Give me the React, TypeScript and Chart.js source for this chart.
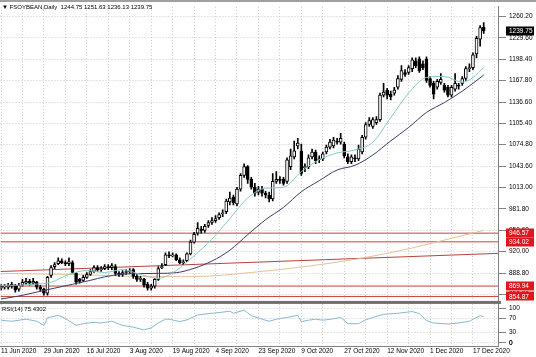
import React, { useEffect, useRef } from 'react';
import { Chart, registerables } from 'chart.js';

Chart.register(...registerables);

const headerText = '\u25BC FSOYBEAN,Daily  1244.75 1251.63 1236.13 1239.75';
const rsiTitle = 'RSI(14) 75.4302';
const lastPrice = 1239.75;

const dateTicks = ['11 Jun 2020', '29 Jun 2020', '16 Jul 2020', '3 Aug 2020', '19 Aug 2020', '4 Sep 2020', '23 Sep 2020', '9 Oct 2020', '27 Oct 2020', '12 Nov 2020', '1 Dec 2020', '17 Dec 2020'];
const gridBars = [0, 6, 12, 18, 24, 30, 36, 42, 48, 54, 60, 66, 72, 78, 84, 90, 96, 102, 108, 114, 120, 126, 132, 138];
const priceTicks = [858.2, 888.8, 920.0, 950.6, 981.8, 1013.0, 1043.6, 1074.8, 1105.4, 1136.6, 1167.8, 1198.4, 1229.6, 1260.2];
const rsiTicks = [0, 30, 70, 100];

const opens = [866.9, 868.3, 868.3, 869.7, 871.1, 865.4, 871.1, 874.0, 876.8, 874.0,
  875.4, 868.3, 865.4, 859.8, 885.3, 898.1, 902.4, 906.6, 903.8, 902.4,
  903.8, 888.2, 879.6, 878.2, 882.5, 886.7, 891.0, 896.7, 893.8, 895.3,
  898.1, 896.7, 898.1, 888.2, 886.7, 889.6, 891.0, 893.8, 883.9, 879.6,
  879.6, 872.5, 866.9, 869.7, 879.6, 896.7, 900.9, 915.1, 913.7, 915.1,
  908.0, 903.8, 906.6, 916.6, 933.6, 946.4, 952.1, 950.6, 957.7, 962.0,
  964.8, 969.1, 974.8, 977.6, 991.8, 998.9, 989.0, 1010.3, 1030.2, 1042.9,
  1024.5, 1013.1, 1006.0, 1010.3, 1004.6, 1001.8, 996.1, 1021.6, 1024.5, 1024.5,
  1021.6, 1042.9, 1057.1, 1072.8, 1065.7, 1041.5, 1042.9, 1057.1, 1064.2, 1052.9,
  1054.3, 1064.2, 1071.3, 1072.8, 1079.9, 1078.4, 1075.6, 1057.1, 1050.0, 1055.7,
  1054.3, 1064.2, 1085.5, 1104.0, 1101.2, 1106.8, 1111.1, 1146.6, 1153.7, 1148.0,
  1149.4, 1158.0, 1169.3, 1179.3, 1179.3, 1184.9, 1196.3, 1199.1, 1192.0, 1199.1,
  1170.7, 1163.6, 1158.0, 1165.1, 1160.8, 1158.0, 1146.6, 1155.1, 1160.8, 1163.6,
  1170.7, 1184.9, 1186.4, 1206.2, 1227.5, 1244.75];
const highs = [872.5, 872.5, 874.0, 875.4, 872.5, 874.0, 879.6, 881.1, 879.6, 881.1,
  876.8, 871.1, 866.9, 883.9, 899.5, 903.8, 910.9, 909.5, 906.6, 910.9,
  906.6, 889.6, 881.1, 885.3, 889.6, 893.8, 899.5, 899.5, 898.1, 900.9,
  900.9, 902.4, 900.9, 891.0, 892.4, 893.8, 895.3, 895.3, 886.7, 883.9,
  881.1, 875.4, 872.5, 881.1, 898.1, 902.4, 918.0, 919.4, 918.0, 916.6,
  910.9, 908.0, 918.0, 936.4, 947.8, 962.0, 956.3, 959.2, 964.8, 969.1,
  971.9, 976.2, 980.5, 996.1, 1006.0, 1001.8, 1013.1, 1033.0, 1047.2, 1044.4,
  1027.3, 1018.8, 1014.5, 1014.5, 1007.4, 1006.0, 1033.0, 1035.8, 1028.7, 1027.3,
  1055.7, 1068.5, 1079.9, 1084.1, 1075.6, 1047.2, 1060.0, 1068.5, 1067.1, 1058.6,
  1064.2, 1074.2, 1082.7, 1085.5, 1084.1, 1091.2, 1078.4, 1061.4, 1060.0, 1060.0,
  1074.2, 1088.4, 1106.8, 1113.9, 1113.9, 1115.4, 1149.4, 1163.6, 1156.5, 1152.3,
  1158.0, 1175.0, 1189.2, 1183.5, 1189.2, 1200.6, 1200.6, 1202.0, 1196.3, 1202.0,
  1173.6, 1166.5, 1169.3, 1177.8, 1163.6, 1160.8, 1160.8, 1177.8, 1163.6, 1173.6,
  1187.8, 1192.0, 1207.7, 1231.8, 1247.4, 1251.63];
const lows = [864.0, 865.4, 865.4, 866.9, 861.2, 862.6, 869.7, 872.5, 871.1, 872.5,
  865.4, 862.6, 856.9, 856.9, 882.5, 895.3, 900.9, 902.4, 899.5, 899.5,
  888.2, 872.5, 874.0, 876.8, 881.1, 885.3, 889.6, 891.0, 891.0, 893.8,
  893.8, 893.8, 885.3, 883.9, 883.9, 886.7, 888.2, 881.1, 876.8, 876.8,
  868.3, 864.0, 864.0, 866.9, 878.2, 895.3, 899.5, 910.9, 912.3, 906.6,
  902.4, 900.9, 905.2, 915.1, 932.2, 943.5, 946.4, 947.8, 954.9, 959.2,
  962.0, 966.3, 970.5, 974.8, 987.6, 987.6, 986.1, 1007.4, 1027.3, 1018.8,
  1010.3, 1000.3, 1001.8, 1000.3, 997.5, 991.8, 993.2, 1018.8, 1018.8, 1016.0,
  1018.8, 1038.7, 1054.3, 1068.5, 1030.2, 1035.8, 1040.1, 1054.3, 1047.2, 1048.6,
  1051.5, 1061.4, 1068.5, 1069.9, 1075.6, 1075.6, 1055.7, 1047.2, 1047.2, 1050.0,
  1051.5, 1061.4, 1082.7, 1101.2, 1098.3, 1104.0, 1108.3, 1143.8, 1140.9, 1139.5,
  1146.6, 1155.1, 1166.5, 1173.6, 1176.4, 1180.7, 1186.4, 1179.3, 1183.5, 1165.1,
  1158.0, 1140.9, 1155.1, 1162.2, 1150.9, 1143.8, 1143.8, 1152.3, 1155.1, 1160.8,
  1167.9, 1180.7, 1183.5, 1200.6, 1217.6, 1236.13];
const closes = [869.7, 869.7, 871.1, 872.5, 864.0, 871.1, 875.4, 876.8, 874.0, 876.8,
  868.3, 865.4, 859.8, 882.5, 896.7, 900.9, 906.6, 903.8, 902.4, 905.2,
  889.6, 875.4, 876.8, 882.5, 886.7, 891.0, 896.7, 893.8, 895.3, 898.1,
  896.7, 899.5, 888.2, 886.7, 889.6, 891.0, 892.4, 883.9, 879.6, 881.1,
  871.1, 866.9, 869.7, 879.6, 895.3, 898.1, 915.1, 913.7, 915.1, 908.0,
  903.8, 905.2, 916.6, 933.6, 945.0, 953.5, 950.6, 956.3, 962.0, 964.8,
  967.7, 973.4, 976.2, 993.2, 997.5, 990.4, 1010.3, 1030.2, 1042.9, 1024.5,
  1013.1, 1004.6, 1010.3, 1004.6, 1001.8, 996.1, 1021.6, 1024.5, 1023.1, 1018.8,
  1052.9, 1058.6, 1065.7, 1077.0, 1033.0, 1042.9, 1055.7, 1064.2, 1051.5, 1054.3,
  1061.4, 1071.3, 1078.4, 1081.3, 1078.4, 1084.1, 1058.6, 1050.0, 1057.1, 1054.3,
  1068.5, 1085.5, 1104.0, 1109.7, 1111.1, 1111.1, 1146.6, 1150.9, 1146.6, 1143.8,
  1153.7, 1170.7, 1182.1, 1176.4, 1186.4, 1197.7, 1189.2, 1182.1, 1186.4, 1167.9,
  1160.8, 1148.0, 1166.5, 1169.3, 1153.7, 1146.6, 1158.0, 1163.6, 1159.4, 1170.7,
  1184.9, 1186.4, 1204.8, 1229.0, 1244.6, 1239.75];

const fastMaBars = [0, 5, 9, 14, 19, 24, 29, 34, 39, 44, 49, 54, 59, 64, 69, 74, 79, 84, 89, 94, 99, 104, 109, 114, 119, 124, 129, 132, 135];
const fastMaValues = [871.1, 871.1, 872.5, 875.4, 886.7, 892.4, 889.6, 893.8, 886.7, 881.1, 892.4, 913.7, 937.9, 967.7, 997.5, 1011.7, 1013.1, 1035.8, 1052.9, 1062.8, 1067.1, 1078.4, 1113.9, 1149.4, 1172.2, 1173.6, 1165.1, 1172.2, 1186.4];
const slowMaBars = [0, 5, 10, 15, 20, 25, 29, 34, 39, 44, 49, 54, 59, 64, 69, 74, 79, 84, 89, 94, 99, 104, 109, 114, 119, 124, 129, 135];
const slowMaValues = [851.2, 855.5, 861.2, 866.9, 872.5, 878.2, 883.3, 887.2, 888.0, 888.3, 889.3, 895.7, 906.2, 921.8, 944.4, 966.1, 983.9, 1006.6, 1022.6, 1038.1, 1044.9, 1059.8, 1080.3, 1099.7, 1121.5, 1135.8, 1152.3, 1175.6];
const longMaBars = [0, 20, 40, 55, 70, 85, 100, 115, 125, 135];
const longMaValues = [888.2, 886.7, 883.9, 883.9, 889.6, 898.1, 909.5, 925.1, 937.9, 950.6];

const levelPrices = [946.57, 934.02, 869.94, 854.87];
const trendlinePrices = [891.0, 917.3];

const rsiBars = [0, 3, 7, 10, 12, 13, 16, 18, 21, 23, 26, 28, 31, 34, 37, 40, 42, 44, 46, 47, 50, 52, 55, 58, 61, 64, 65, 68, 70, 73, 75, 77, 80, 83, 84, 86, 88, 90, 93, 95, 97, 100, 102, 104, 107, 111, 115, 117, 119, 121, 125, 128, 131, 133, 134, 135];
const rsiValues = [65, 62, 68, 62, 50, 72, 79, 70, 50, 55, 59, 57, 62, 50, 45, 37, 43, 57, 68, 68, 61, 66, 80, 84, 87, 91, 85, 94, 78, 68, 62, 68, 73, 79, 61, 65, 68, 65, 69, 73, 55, 55, 66, 73, 82, 85, 90, 84, 64, 57, 54, 57, 62, 73, 78, 75.43];

const X_MIN = -0.14;
const X_MAX = 139;
const FONT = "'Liberation Sans', Arial, sans-serif";

const overlayPlugin = {
  id: 'mtOverlay',
  afterDraw(chart: any) {
    const ctx = chart.ctx;
    const y = chart.scales.y;
    const yr = chart.scales.yRsi;
    ctx.save();
    ctx.fillStyle = '#a0a0a0';
    ctx.fillRect(0, 0, 536, 2);
    ctx.fillStyle = '#6f6f6f';
    ctx.fillRect(0, yr.top, 501, 3);
    ctx.fillStyle = '#000';
    ctx.font = `6px ${FONT}`;
    ctx.textBaseline = 'middle';
    ctx.textAlign = 'left';
    ctx.fillText(headerText, 2, 7);
    ctx.fillText(rsiTitle, 2, yr.top + 8);
    ctx.font = `6.5px ${FONT}`;
    // lowest RSI level label (re-inked so it stays visible at the pane edge)
    ctx.fillText(String(rsiTicks[0]), yr.left + 11, yr.getPixelForValue(rsiTicks[0]));
    const box = (v: number, bg: string) => {
      const py = y.getPixelForValue(v);
      ctx.fillStyle = bg;
      ctx.fillRect(506, Math.round(py) - 4.5, 28, 9);
      ctx.fillStyle = '#fff';
      ctx.fillText(v.toFixed(2), 509, py + 0.5);
    };
    levelPrices.forEach((v) => box(v, '#e0161e'));
    box(lastPrice, '#000');
    ctx.restore();
  },
};

export default function App() {
  const ref = useRef<HTMLCanvasElement>(null);
  useEffect(() => {
    const canvas = ref.current;
    if (!canvas) return;
    const wickData = closes.map((_, i) => ({ x: i, y: [lows[i], highs[i]] }));
    const bodyData = closes.map((c, i) => ({ x: i, y: [opens[i], c] }));
    const pts = (bars: number[], vals: number[]) => bars.map((b, i) => ({ x: b, y: vals[i] }));
    const lineDs = (label: string, data: any[], color: string, order: number, yAxisID = 'y', tension = 0.4) => ({
      type: 'line' as const,
      label,
      data,
      borderColor: color,
      borderWidth: 1,
      pointRadius: 0,
      tension,
      cubicInterpolationMode: tension > 0 ? ('monotone' as const) : ('default' as const),
      yAxisID,
      order,
    });
    const levelDs = levelPrices.map((v, k) =>
      lineDs('level' + k, [{ x: X_MIN, y: v }, { x: X_MAX, y: v }], '#c8423c', 6, 'y', 0)
    );
    const gridColor = '#c9c9c9';
    const tickFont = { family: FONT, size: 6.5 };
    const chart = new Chart(canvas, {
      type: 'bar',
      data: {
        datasets: [
          ...levelDs,
          lineDs('trend', [{ x: X_MIN, y: trendlinePrices[0] }, { x: X_MAX, y: trendlinePrices[1] }], '#b9413f', 6, 'y', 0),
          lineDs('ma200', pts(longMaBars, longMaValues), '#e2c29a', 5),
          {
            type: 'bar',
            label: 'wick',
            data: wickData as any,
            backgroundColor: '#000',
            borderWidth: 0,
            barThickness: 1,
            grouped: false,
            yAxisID: 'y',
            order: 3,
          } as any,
          {
            type: 'bar',
            label: 'body',
            data: bodyData as any,
            backgroundColor: (c: any) => (closes[c.dataIndex] >= opens[c.dataIndex] ? '#ffffff' : '#000000'),
            borderColor: '#000',
            borderWidth: 1,
            borderSkipped: false,
            barThickness: 3,
            grouped: false,
            yAxisID: 'y',
            order: 2,
          } as any,
          lineDs('maFast', pts(fastMaBars, fastMaValues), '#86c9c3', 1),
          lineDs('maSlow', pts(slowMaBars, slowMaValues), '#3b3b6b', 1),
          lineDs('rsi', pts(rsiBars, rsiValues), '#8ab6d2', 1, 'yRsi', 0),
        ],
      },
      options: {
        responsive: false,
        animation: false,
        devicePixelRatio: 1,
        layout: { padding: 0 },
        plugins: { legend: { display: false }, tooltip: { enabled: false } },
        scales: {
          x: {
            type: 'linear',
            min: X_MIN,
            max: X_MAX,
            offset: false,
            afterBuildTicks: (s: any) => {
              s.ticks = gridBars.map((v) => ({ value: v }));
            },
            afterFit: (s: any) => {
              s.height = 11;
            },
            ticks: {
              autoSkip: false,
              maxRotation: 0,
              align: 'start',
              padding: 1,
              color: '#000',
              font: tickFont,
              callback: (v: any) => (v % 12 === 0 ? dateTicks[v / 12] ?? '' : ''),
            },
            grid: { color: gridColor, drawTicks: false, offset: false },
            border: { display: true, color: '#808080', dash: [1, 2] },
          },
          y: {
            type: 'linear',
            position: 'right',
            stack: 'panes',
            stackWeight: 300,
            min: 848.4,
            max: 1274.4,
            afterBuildTicks: (s: any) => {
              s.ticks = priceTicks.map((v) => ({ value: v }));
            },
            afterFit: (s: any) => {
              s.width = 38;
            },
            ticks: {
              autoSkip: false,
              color: '#000',
              font: tickFont,
              padding: 3,
              callback: (v: any) => Number(v).toFixed(2),
            },
            grid: { color: gridColor, tickLength: 8, tickColor: '#808080' },
            border: { display: true, color: '#808080', dash: [1, 2] },
          },
          yRsi: {
            type: 'linear',
            position: 'right',
            stack: 'panes',
            stackWeight: 46,
            min: -9.3,
            max: 120.6,
            afterBuildTicks: (s: any) => {
              s.ticks = rsiTicks.map((v) => ({ value: v }));
            },
            afterFit: (s: any) => {
              s.width = 38;
            },
            ticks: {
              autoSkip: false,
              color: '#000',
              font: tickFont,
              padding: 3,
              callback: (v: any) => String(v),
            },
            grid: { color: gridColor, tickLength: 8, tickColor: '#808080' },
            border: { display: true, color: '#808080', dash: [1, 2] },
          },
        },
      } as any,
      plugins: [overlayPlugin],
    });
    return () => chart.destroy();
  }, []);
  return (
    <div style={{ position: 'fixed', left: 0, top: 0, width: 536, height: 357, background: '#fff' }}>
      <canvas ref={ref} width={536} height={357} style={{ display: 'block', width: 536, height: 357 }} />
    </div>
  );
}
